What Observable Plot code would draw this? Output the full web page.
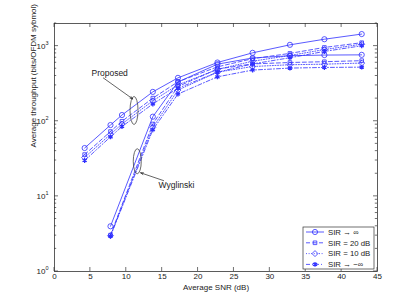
<!DOCTYPE html>
<html>
<head>
<meta charset="utf-8">
<script src="https://cdn.jsdelivr.net/npm/d3@7"></script>
<script src="https://cdn.jsdelivr.net/npm/@observablehq/plot@0.6"></script>
<style>
  html, body { margin: 0; padding: 0; background: #fff; }
  #chart { width: 415px; height: 305px; }
  svg { font-family: "Liberation Sans", Arial, sans-serif; }
</style>
</head>
<body>
<div id="chart"></div>
<script>
// ---- data ----
const snrProposed = [4.2, 7.8, 9.4, 13.7, 17.2, 22.7, 27.6, 32.8, 37.6, 42.8];
const snrWyglinski = [7.8, 13.7, 17.2, 22.7, 27.6, 32.8, 37.6, 42.8];
const sirLabels = ["SIR → ∞", "SIR = 20 dB", "SIR = 10 dB", "SIR → −∞"];
const proposedInf  = [44, 89, 121, 246, 378, 605, 814, 1040, 1235, 1447];
const proposed20   = [36, 73, 100, 203, 335, 530, 680, 800, 960, 1110];
const proposed10   = [33, 67, 92, 187, 305, 490, 630, 750, 900, 1060];
const proposedNInf = [30, 62, 85, 170, 275, 450, 580, 700, 850, 1010];
const wygInf  = [4.0, 115, 333, 575, 695, 745, 760, 765];
const wyg20   = [3.05, 92, 290, 495, 580, 605, 620, 640];
const wyg10   = [3.0, 83, 260, 450, 535, 565, 575, 595];
const wygNInf = [2.95, 77, 230, 390, 480, 510, 520, 525];
const xTicks = [0, 5, 10, 15, 20, 25, 30, 35, 40, 45];
const yTicks = [1, 10, 100, 1000];
const yTickExponents = ["0", "1", "2", "3"];
const annotationTexts = [{label: "Proposed", x: 5.15, y: 440}, {label: "Wyglinski", x: 14.5, y: 13.9}];
const annotationArrows = [
  {x1: 6.8, y1: 377, x2: 10.9, y2: 198},
  {x1: 15.2, y1: 16.2, x2: 12.0, y2: 20.6}
];
const annotationEllipses = [{x: 11.15, y: 137, rx: 4, ry: 14}, {x: 11.6, y: 28.9, rx: 4, ry: 12.5}];

// ---- build table ----
const series = [
  {scheme: "Proposed", sir: 0, xs: snrProposed, ys: proposedInf},
  {scheme: "Proposed", sir: 1, xs: snrProposed, ys: proposed20},
  {scheme: "Proposed", sir: 2, xs: snrProposed, ys: proposed10},
  {scheme: "Proposed", sir: 3, xs: snrProposed, ys: proposedNInf},
  {scheme: "Wyglinski", sir: 0, xs: snrWyglinski, ys: wygInf},
  {scheme: "Wyglinski", sir: 1, xs: snrWyglinski, ys: wyg20},
  {scheme: "Wyglinski", sir: 2, xs: snrWyglinski, ys: wyg10},
  {scheme: "Wyglinski", sir: 3, xs: snrWyglinski, ys: wygNInf}
];
const rows = series.flatMap(s => s.xs.map((x, i) => ({key: s.scheme + s.sir, sir: s.sir, x, y: s.ys[i]})));

const blue = "#3030ff";
const dashes = ["none", "4,2.5", "1,1.6", "4,2,1,2"];
const symbols = ["circle", "square2", "diamond2", "asterisk"];
const symR = [2.6, 2.3, 2.7, 2.3];

function lineMark(sir) {
  return Plot.line(rows.filter(d => d.sir === sir), {
    x: "x", y: "y", z: "key", stroke: blue, strokeWidth: 0.8,
    strokeDasharray: dashes[sir]
  });
}
function dotMark(sir) {
  return Plot.dot(rows.filter(d => d.sir === sir), {
    x: "x", y: "y", symbol: () => symbols[sir], r: symR[sir],
    stroke: blue, strokeWidth: sir === 3 ? 1.3 : 0.8,
    fill: sir === 3 ? blue : "none"
  });
}

// frame ticks (inward) and y tick labels with superscripts
function frameTicks(index, scales, values, dims) {
  const {x, y} = scales;
  const g = d3.create("svg:g");
  const lines = g.append("g").attr("stroke", "#333").attr("stroke-width", 0.7);
  const top = dims.marginTop, bottom = dims.height - dims.marginBottom;
  const left = dims.marginLeft, right = dims.width - dims.marginRight;
  for (const t of xTicks) {
    const px = x(t);
    lines.append("line").attr("x1", px).attr("x2", px).attr("y1", bottom).attr("y2", bottom - 4);
    lines.append("line").attr("x1", px).attr("x2", px).attr("y1", top).attr("y2", top + 4);
  }
  for (let k = 0; k <= 3; k++) {
    for (let m = 1; m <= 9; m++) {
      const v = m * Math.pow(10, k);
      if (v > 2000) break;
      const py = y(v);
      const len = m === 1 ? 4 : 2.2;
      lines.append("line").attr("x1", left).attr("x2", left + len).attr("y1", py).attr("y2", py);
      lines.append("line").attr("x1", right).attr("x2", right - len).attr("y1", py).attr("y2", py);
    }
  }
  const labels = g.append("g").attr("fill", "#222").attr("font-size", 8);
  yTicks.forEach((t, i) => {
    const py = y(t);
    labels.append("text").attr("x", left - 8.5).attr("y", py + 3).attr("text-anchor", "end").text("10");
    labels.append("text").attr("x", left - 8.5).attr("y", py - 1).attr("font-size", 5.5)
      .attr("text-anchor", "start").text(yTickExponents[i]);
  });
  return g.node();
}

function ellipses(index, scales) {
  const g = d3.create("svg:g").attr("fill", "none").attr("stroke", "#444").attr("stroke-width", 0.8);
  for (const e of annotationEllipses) {
    g.append("ellipse").attr("cx", scales.x(e.x)).attr("cy", scales.y(e.y)).attr("rx", e.rx).attr("ry", e.ry);
  }
  return g.node();
}

function legend(index, scales, values, dims) {
  const right = dims.width - dims.marginRight;
  const bottom = dims.height - dims.marginBottom;
  const w = 71, h = 42;
  const x0 = right - w - 3, y0 = bottom - h - 2;
  const g = d3.create("svg:g");
  g.append("rect").attr("x", x0).attr("y", y0).attr("width", w).attr("height", h)
    .attr("fill", "#fff").attr("stroke", "#333").attr("stroke-width", 0.7);
  sirLabels.forEach((lab, i) => {
    const cy = y0 + 5 + i * 10.8;
    g.append("line").attr("x1", x0 + 3).attr("x2", x0 + 21).attr("y1", cy).attr("y2", cy)
      .attr("stroke", blue).attr("stroke-width", 0.8)
      .attr("stroke-dasharray", dashes[i] === "none" ? null : dashes[i]);
    const sym = d3.symbol().type(
      [d3.symbolCircle, d3.symbolSquare2, d3.symbolDiamond2, d3.symbolAsterisk][i]
    ).size(Math.PI * symR[i] * symR[i]);
    g.append("path").attr("d", sym()).attr("transform", `translate(${x0 + 12},${cy})`)
      .attr("fill", i === 3 ? blue : "none").attr("stroke", blue)
      .attr("stroke-width", i === 3 ? 1.3 : 0.8);
    g.append("text").attr("x", x0 + 25).attr("y", cy).attr("dy", "0.35em")
      .attr("text-anchor", "start")
      .attr("font-size", 7.8).attr("fill", "#222").text(lab);
  });
  return g.node();
}

const chart = Plot.plot({
  width: 415,
  height: 305,
  marginLeft: 54,
  marginRight: 38,
  marginTop: 23,
  marginBottom: 34,
  style: {fontFamily: "'Liberation Sans', Arial, sans-serif", fontSize: "8px", background: "#fff", color: "#222"},
  x: {domain: [0, 45]},
  y: {type: "log", domain: [1, 2000], axis: null},
  marks: [
    Plot.frame({stroke: "#333", strokeWidth: 0.8}),
    Plot.axisX(xTicks, {anchor: "bottom", tickSize: 0, tickPadding: 2, fontSize: 8, label: null}),
    Plot.text(["Average SNR (dB)"], {frameAnchor: "bottom", lineAnchor: "middle", dy: 16, fontSize: 8, fill: "#222"}),
    Plot.text(["Average throughput (bits/OFDM sybmol)"], {frameAnchor: "left", dx: -21, rotate: -90, fontSize: 8, fill: "#222"}),
    frameTicks,
    lineMark(0), lineMark(1), lineMark(2), lineMark(3),
    dotMark(0), dotMark(1), dotMark(2), dotMark(3),
    ellipses,
    Plot.arrow(annotationArrows, {x1: "x1", y1: "y1", x2: "x2", y2: "y2", stroke: "#222", strokeWidth: 0.7, headLength: 6, headAngle: 40}),
    Plot.text(annotationTexts, {x: "x", y: "y", text: "label", textAnchor: "start", fontSize: 8.5, fill: "#222"}),
    legend
  ]
});
document.getElementById("chart").appendChild(chart);
</script>
</body>
</html>
